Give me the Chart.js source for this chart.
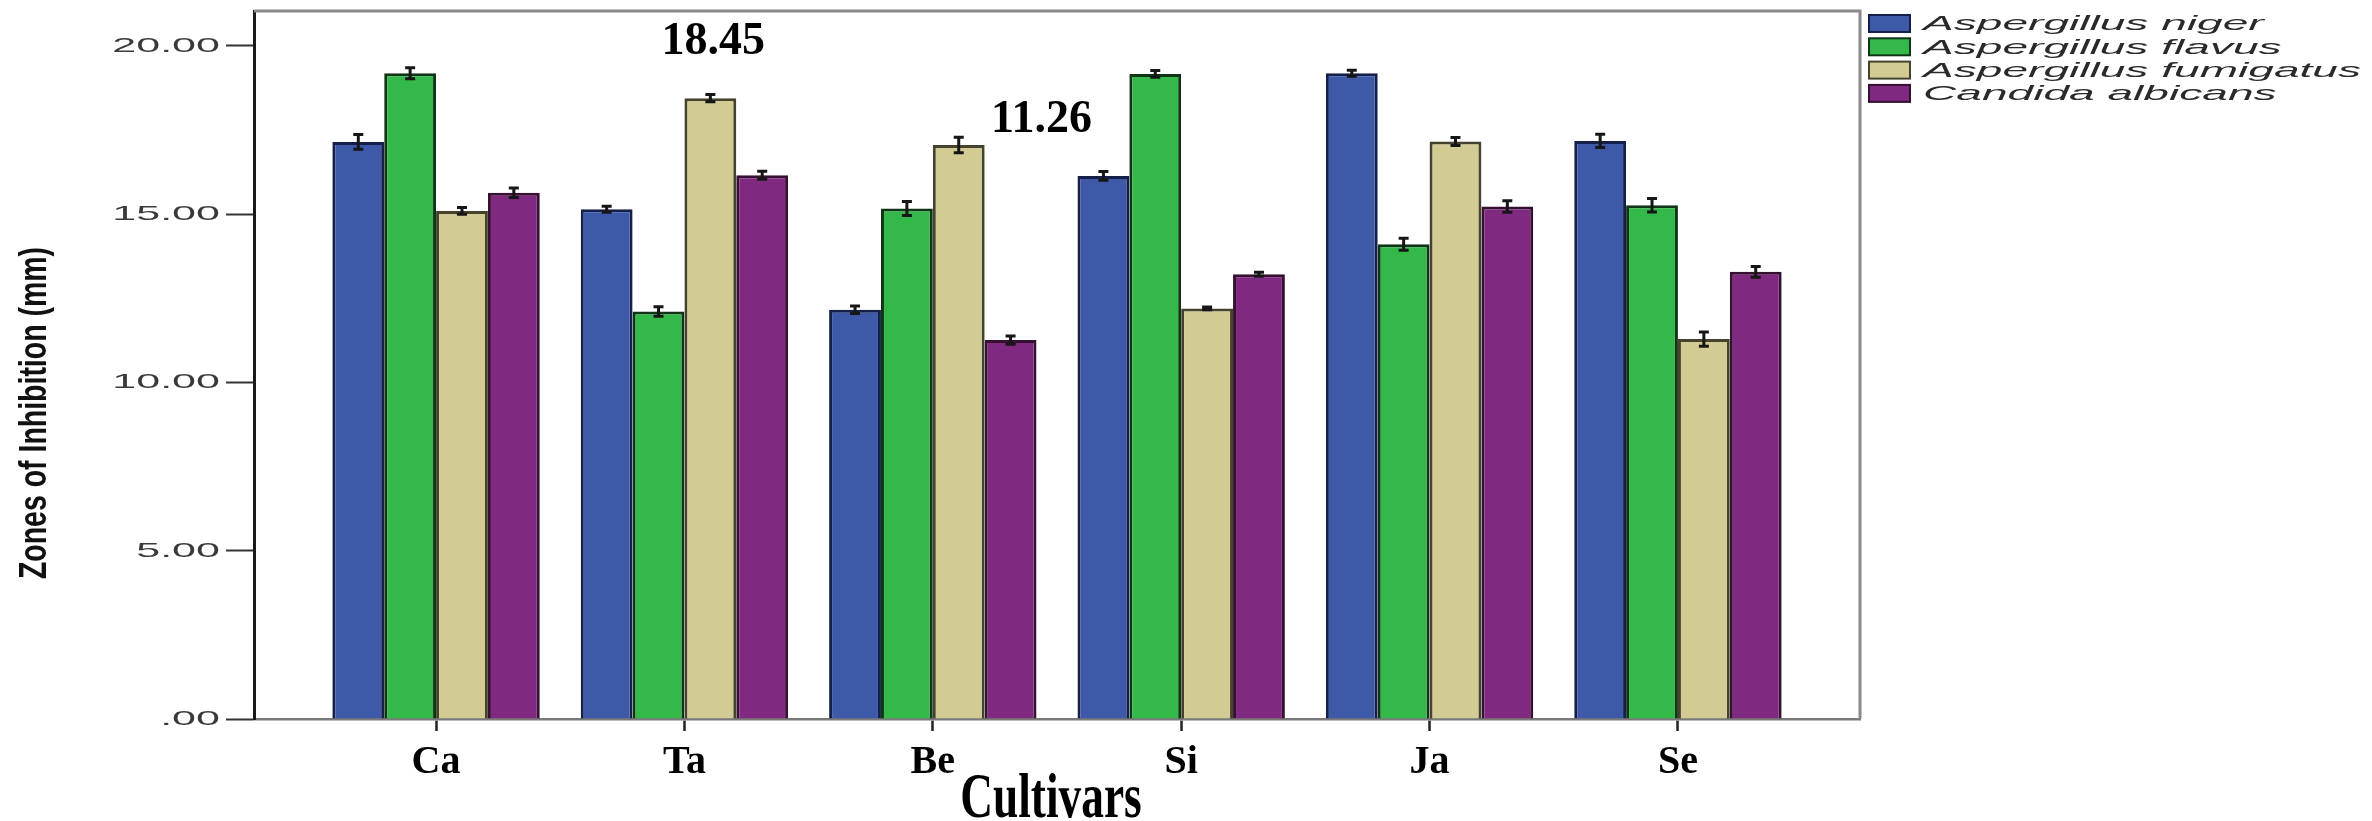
<!DOCTYPE html>
<html>
<head>
<meta charset="utf-8">
<script src="https://cdn.jsdelivr.net/npm/chart.js@4.4.1/dist/chart.umd.min.js"></script>
<style>
  html, body { margin: 0; padding: 0; background: #ffffff; }
  canvas { display: block; }
</style>
</head>
<body>
<canvas id="chart" width="2372" height="821"></canvas>
<script>
// Cultivars on the x axis
const categories = ['Ca', 'Ta', 'Be', 'Si', 'Ja', 'Se'];

// Organism names (legend entries)
const seriesNames = ['Aspergillus niger', 'Aspergillus flavus', 'Aspergillus fumigatus', 'Candida albicans'];

// Mean zone of inhibition (mm) per cultivar
const niger     = [17.15, 15.15, 12.16, 16.14, 19.19, 17.18];
const flavus    = [19.19, 12.11, 15.17, 19.17, 14.11, 15.27];
const fumigatus = [15.10, 18.45, 17.06, 12.20, 17.16, 11.29];
const albicans  = [15.64, 16.16, 11.26, 13.22, 15.23, 13.29];

// Error bar half-lengths (mm)
const nigerErr     = [0.22, 0.09, 0.11, 0.13, 0.09, 0.20];
const flavusErr    = [0.16, 0.14, 0.21, 0.10, 0.18, 0.20];
const fumigatusErr = [0.10, 0.11, 0.23, 0.04, 0.12, 0.21];
const albicansErr  = [0.14, 0.12, 0.12, 0.06, 0.17, 0.16];

// Y axis ticks and their printed labels
const yTickValues = [0, 5, 10, 15, 20];
const yTickLabels = ['.00', '5.00', '10.00', '15.00', '20.00'];

const seriesValues = [niger, flavus, fumigatus, albicans];
const seriesErrors = [nigerErr, flavusErr, fumigatusErr, albicansErr];
const fillColors   = ['#3f59a9', '#33b84a', '#d2cb93', '#7f2a80'];
const edgeColors   = ['#141f4a', '#0f3416', '#46432c', '#361031'];

// Draw text with independent horizontal/vertical scaling
function drawScaledText(ctx, text, x, y, sx, sy, align, baseline, rotation) {
  ctx.save();
  ctx.translate(x, y);
  if (rotation) ctx.rotate(rotation);
  ctx.scale(sx, sy);
  ctx.textAlign = align;
  ctx.textBaseline = baseline;
  ctx.fillText(text, 0, 0);
  ctx.restore();
}

// Top and right edges of the plot frame
const framePlugin = {
  id: 'frame',
  afterDraw(chart) {
    const { ctx, chartArea: a } = chart;
    ctx.save();
    ctx.strokeStyle = '#8a8a8a';
    ctx.lineWidth = 3;
    ctx.beginPath();
    ctx.moveTo(a.left, a.top);
    ctx.lineTo(a.right, a.top);
    ctx.lineTo(a.right, a.bottom);
    ctx.stroke();
    ctx.restore();
  }
};

// Error bars drawn on top of each bar
const errorBarPlugin = {
  id: 'errorBars',
  afterDatasetsDraw(chart) {
    const { ctx } = chart;
    const yScale = chart.scales.y;
    ctx.save();
    ctx.strokeStyle = '#161616';
    ctx.lineWidth = 3;
    chart.data.datasets.forEach((ds, di) => {
      const meta = chart.getDatasetMeta(di);
      meta.data.forEach((bar, i) => {
        const v = seriesValues[di][i];
        const e = seriesErrors[di][i];
        const yHi = yScale.getPixelForValue(v + e);
        const yLo = yScale.getPixelForValue(v - e);
        const cap = 5;
        ctx.beginPath();
        ctx.moveTo(bar.x, yHi); ctx.lineTo(bar.x, yLo);
        ctx.moveTo(bar.x - cap, yHi); ctx.lineTo(bar.x + cap, yHi);
        ctx.moveTo(bar.x - cap, yLo); ctx.lineTo(bar.x + cap, yLo);
        ctx.stroke();
      });
    });
    ctx.restore();
  }
};

// Wide-set y tick labels, placed at the scale's tick positions
const yLabelPlugin = {
  id: 'yLabels',
  afterDraw(chart) {
    const { ctx } = chart;
    const yScale = chart.scales.y;
    ctx.save();
    ctx.fillStyle = '#3a3a3a';
    ctx.font = '21px "Liberation Sans", Arial, sans-serif';
    yTickValues.forEach((v, i) => {
      const y = yScale.getPixelForValue(v);
      drawScaledText(ctx, yTickLabels[i], yScale.right - 34, y, 2.05, 1, 'right', 'middle');
    });
    ctx.restore();
  }
};

// Axis titles
const titlePlugin = {
  id: 'axisTitles',
  afterDraw(chart) {
    const { ctx, chartArea: a } = chart;
    ctx.save();
    ctx.fillStyle = '#111111';
    ctx.font = 'bold 39px "Liberation Sans", Arial, sans-serif';
    drawScaledText(ctx, 'Zones of Inhibition (mm)', 35, (a.top + a.bottom) / 2 + 48, 0.73, 1, 'center', 'middle', -Math.PI / 2);
    ctx.fillStyle = '#000000';
    ctx.font = 'bold 63px "Liberation Serif", "Times New Roman", serif';
    drawScaledText(ctx, 'Cultivars', (a.left + a.right) / 2 - 6, 817, 0.72, 1, 'center', 'alphabetic');
    ctx.restore();
  }
};

// Legend at the right of the frame
const legendPlugin = {
  id: 'sideLegend',
  afterDraw(chart) {
    const { ctx, chartArea: a } = chart;
    ctx.save();
    ctx.font = 'italic 21px "Liberation Sans", Arial, sans-serif';
    const longest = Math.max(...seriesNames.map(n => ctx.measureText(n).width));
    const sx = 438 / longest;
    seriesNames.forEach((name, i) => {
      const cy = a.top + 12.5 + i * 23.3;
      const x0 = a.right + 9;
      ctx.fillStyle = fillColors[i];
      ctx.fillRect(x0, cy - 8.5, 41, 17);
      ctx.strokeStyle = edgeColors[i];
      ctx.lineWidth = 2;
      ctx.strokeRect(x0, cy - 8.5, 41, 17);
      ctx.fillStyle = '#2a2a2a';
      drawScaledText(ctx, name, x0 + 54, cy + 1, sx, 1, 'left', 'middle');
    });
    ctx.restore();
  }
};

// Value callouts above selected bars
const calloutPlugin = {
  id: 'callouts',
  afterDraw(chart, args, opts) {
    const { ctx } = chart;
    const yScale = chart.scales.y;
    ctx.save();
    ctx.fillStyle = '#000000';
    ctx.font = 'bold 46px "Liberation Serif", "Times New Roman", serif';
    (opts.items || []).forEach(item => {
      const bar = chart.getDatasetMeta(item.series).data[item.index];
      const text = seriesValues[item.series][item.index].toFixed(2);
      const y = yScale.getPixelForValue(item.atValue);
      drawScaledText(ctx, text, bar.x + item.dx, y, 1, 1, 'center', 'middle');
    });
    ctx.restore();
  }
};

const datasets = seriesNames.map((name, si) => ({
  label: name,
  data: categories.map((c, i) => ({ x: i, y: seriesValues[si][i] })),
  backgroundColor: fillColors[si],
  borderColor: edgeColors[si],
  borderWidth: 3,
  categoryPercentage: 0.835,
  barPercentage: 1.0
}));

new Chart(document.getElementById('chart'), {
  type: 'bar',
  data: { datasets },
  plugins: [framePlugin, errorBarPlugin, yLabelPlugin, titlePlugin, legendPlugin, calloutPlugin],
  options: {
    responsive: false,
    animation: false,
    devicePixelRatio: 1,
    layout: { padding: { top: 11, right: 512, bottom: 0, left: 0 } },
    plugins: {
      legend: { display: false },
      tooltip: { enabled: false },
      callouts: {
        items: [
          { series: 2, index: 1, dx: 3, atValue: 20.12 },
          { series: 3, index: 2, dx: 31, atValue: 17.8 }
        ]
      }
    },
    scales: {
      x: {
        type: 'linear',
        min: -0.733,
        max: categories.length - 1 + 0.733,
        offset: false,
        afterBuildTicks(scale) {
          scale.ticks = categories.map((c, i) => ({ value: i }));
        },
        afterFit(scale) { scale.height = 102; },
        ticks: {
          autoSkip: false,
          maxRotation: 0,
          padding: 8,
          color: '#000000',
          font: { family: '"Liberation Serif", "Times New Roman", serif', size: 40, weight: 'bold' },
          callback: (v) => categories[v] !== undefined ? categories[v] : ''
        },
        grid: {
          offset: false,
          drawOnChartArea: false,
          drawTicks: true,
          tickLength: 12,
          tickWidth: 2.5,
          tickColor: '#222222'
        },
        border: { display: true, color: '#7a7a7a', width: 2.5 }
      },
      y: {
        type: 'linear',
        min: 0,
        max: 21.04,
        afterBuildTicks(scale) {
          scale.ticks = yTickValues.map(v => ({ value: v }));
        },
        afterFit(scale) { scale.width = 254; },
        ticks: { display: false },
        grid: {
          drawOnChartArea: false,
          drawTicks: true,
          tickLength: 28,
          tickWidth: 2,
          tickColor: '#333333'
        },
        border: { display: true, color: '#1a1a1a', width: 3 }
      }
    }
  }
});
</script>
</body>
</html>
